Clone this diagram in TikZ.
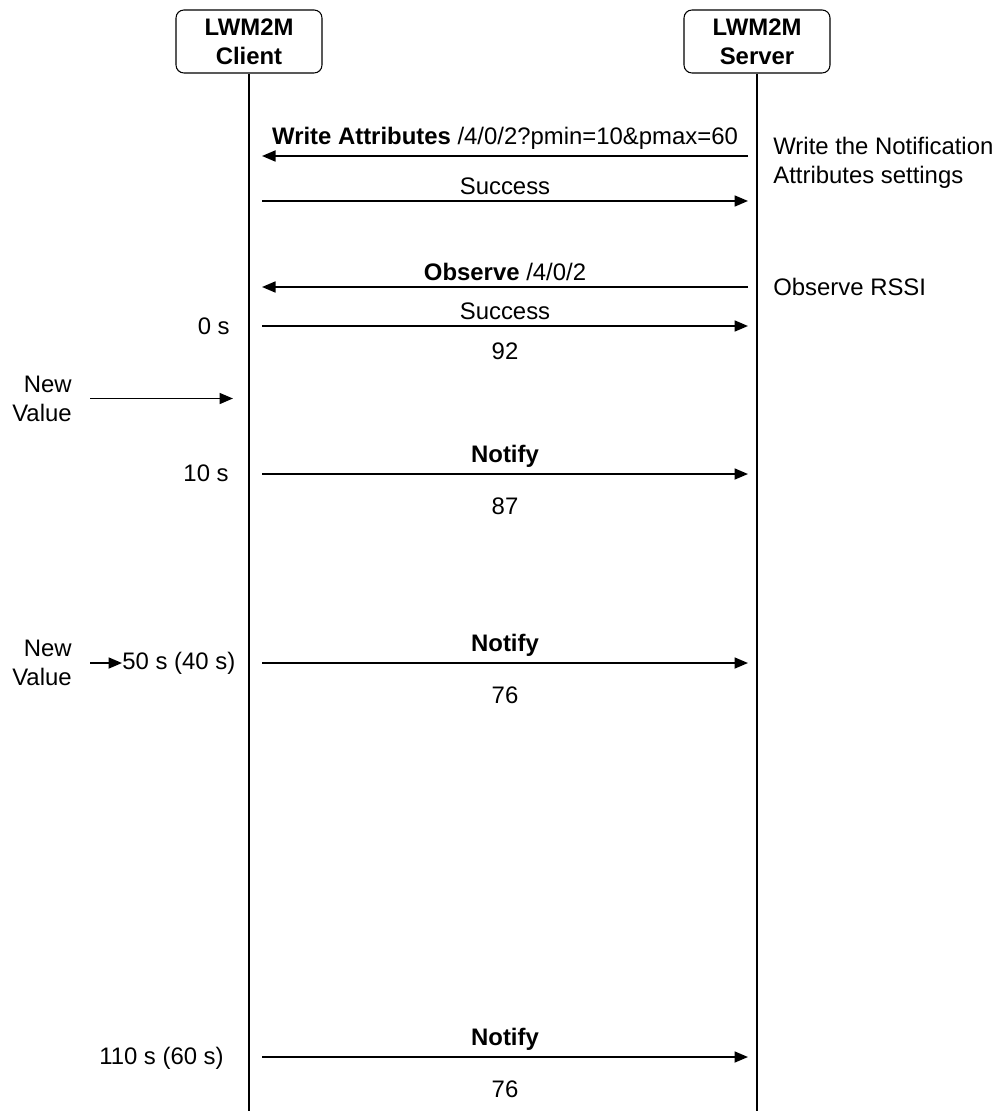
\documentclass[tikz,border=0pt]{standalone}
\usepackage{fontspec}
\setmainfont{Liberation Sans}
\usetikzlibrary{arrows.meta}

\newcommand{\diagfont}{\fontsize{13.6}{16.6}\selectfont}

\tikzset{
	entity/.style={draw, line width=0.6pt, rounded corners=4.5pt, fill=white, minimum width=2.92cm, minimum height=1.26cm, inner sep=0pt, align=center, font=\diagfont\bfseries},
	lifeline/.style={line width=0.8pt},
	msg/.style={-{Triangle[length=0.27cm,width=0.22cm]}, line width=1pt},
	note/.style={anchor=west, align=left, inner sep=0pt},
	timelabel/.style={anchor=east, inner sep=0pt},
	newval/.style={anchor=east, align=right, inner ysep=0pt, inner xsep=0.36cm}
}

\begin{document}
\begin{tikzpicture}[x=0.02cm, y=-0.02cm, font=\diagfont]
		\useasboundingbox (0,0) rectangle (995,1111);
		
		\node[entity] (client) at (249,41.5) {LWM2M\\Client};
		\node[entity] (server) at (757,41.5) {LWM2M\\Server};
		\coordinate (clientend) at (249,1111);
		\coordinate (serverend) at (757,1111);
		\draw[lifeline] (client) -- (clientend);
		\draw[lifeline] (server) -- (serverend);
		
		\coordinate (c1) at (262,156); \coordinate (s1) at (748,156);
		\coordinate (c2) at (262,201); \coordinate (s2) at (748,201);
		\coordinate (c3) at (262,287); \coordinate (s3) at (748,287);
		\coordinate (c4) at (262,326); \coordinate (s4) at (748,326);
		\coordinate (c5) at (262,474); \coordinate (s5) at (748,474);
		\coordinate (c6) at (262,663); \coordinate (s6) at (748,663);
		\coordinate (c7) at (262,1057); \coordinate (s7) at (748,1057);
		
		\draw[msg] (s1) -- (c1) node[midway, above] {\textbf{Write Attributes} /4/0/2?pmin=10\&pmax=60};
		\draw[msg] (c2) -- (s2) node[midway, above] {Success};
		\draw[msg] (s3) -- (c3) node[midway, above] {\textbf{Observe} /4/0/2};
		\draw[msg] (c4) -- (s4) node[midway, above] {Success} node[midway, below=0.2cm] {92};
		\draw[msg] (c5) -- (s5) node[midway, above] {\textbf{Notify}} node[midway, below=0.35cm] {87};
		\draw[msg] (c6) -- (s6) node[midway, above] {\textbf{Notify}} node[midway, below=0.35cm] {76};
		\draw[msg] (c7) -- (s7) node[midway, above] {\textbf{Notify}} node[midway, below=0.35cm] {76};
		
		\node[note] (writenote) at (773,162.5) {Write the Notification\\Attributes settings};
		\node[note] (observenote) at (773,287) {Observe RSSI};
		
		\node[timelabel] (t0) at (230,326) {0 s};
		\node[timelabel] (t10) at (229,473) {10 s};
		\node[timelabel, anchor=west] (t50) at (122,663) {50 s (40 s)};
		\node[timelabel] (t110) at (224,1058) {110 s (60 s)};
		
		\node[newval] (newA) at (90,398.5) {New\\Value};
		\node[newval] (newB) at (90,663) {New\\Value};
		\coordinate (nvA) at (233,398.5);
		\draw[msg] (newA) -- (nvA);
		\draw[msg] (newB) -- (t50);
	\end{tikzpicture}
\end{document}
